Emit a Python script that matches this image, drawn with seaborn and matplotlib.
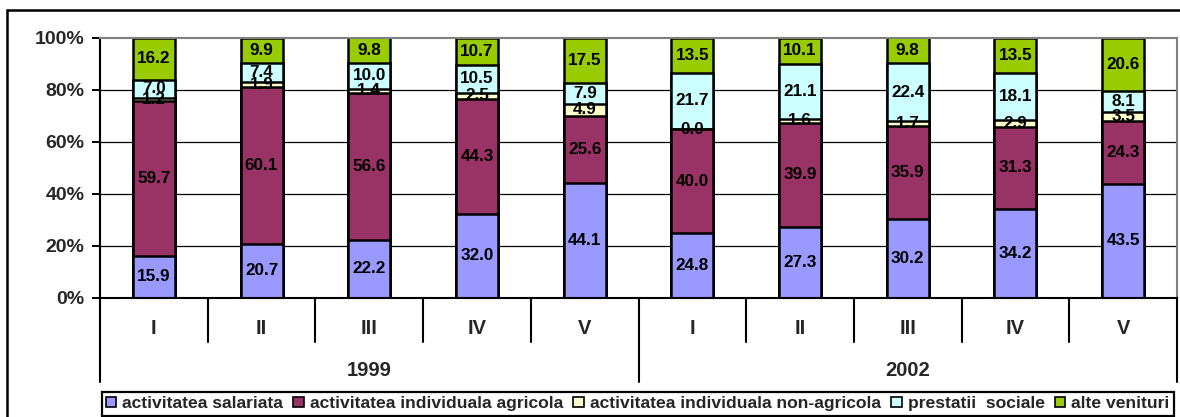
import matplotlib
matplotlib.use("Agg")
import matplotlib.pyplot as plt
from matplotlib.patches import Patch
from matplotlib.lines import Line2D
import seaborn as sns
import pandas as pd
import numpy as np

# ---------------- data ----------------
years = ["1999", "2002"]
quintiles = ["I", "II", "III", "IV", "V"]
series = ["activitatea salariata", "activitatea individuala agricola",
          "activitatea individuala non-agricola", "prestatii  sociale", "alte venituri"]
colors = ["#9999FF", "#993366", "#FFFFCC", "#CCFFFF", "#99CC00"]

salariata_1999 = [15.9, 20.7, 22.2, 32.0, 44.1]
agricola_1999 = [59.7, 60.1, 56.6, 44.3, 25.6]
nonagricola_1999 = [1.2, 1.9, 1.4, 2.5, 4.9]
prestatii_1999 = [7.0, 7.4, 10.0, 10.5, 7.9]
alte_1999 = [16.2, 9.9, 9.8, 10.7, 17.5]

salariata_2002 = [24.8, 27.3, 30.2, 34.2, 43.5]
agricola_2002 = [40.0, 39.9, 35.9, 31.3, 24.3]
nonagricola_2002 = [0.0, 1.6, 1.7, 2.9, 3.5]
prestatii_2002 = [21.7, 21.1, 22.4, 18.1, 8.1]
alte_2002 = [13.5, 10.1, 9.8, 13.5, 20.6]

y_ticks = [0, 20, 40, 60, 80, 100]
y_tick_labels = ["0%", "20%", "40%", "60%", "80%", "100%"]

# ---------------- build table ----------------
vals = np.array([
    salariata_1999 + salariata_2002,
    agricola_1999 + agricola_2002,
    nonagricola_1999 + nonagricola_2002,
    prestatii_1999 + prestatii_2002,
    alte_1999 + alte_2002,
])
cats = [f"{y} {q}" for y in years for q in quintiles]
pct = vals / vals.sum(axis=0) * 100.0
cum = np.cumsum(pct, axis=0)
df = pd.DataFrame({"cat": cats})
for k in range(len(series)):
    df[f"cum{k}"] = cum[k]

# ---------------- style ----------------
sns.set_style("white")
plt.rcParams["font.family"] = ["Liberation Sans", "DejaVu Sans"]
plt.rcParams["font.weight"] = "bold"

W, H = 1180, 417
fig = plt.figure(figsize=(W / 100, H / 100), dpi=100)
ax_bottom_px, ax_top_px = 297.5, 37.5
ax_left_px, ax_right_px = 100, 1177
ax = fig.add_axes([ax_left_px / W, (H - ax_bottom_px) / H,
                   (ax_right_px - ax_left_px) / W, (ax_bottom_px - ax_top_px) / H])
axh = ax_bottom_px - ax_top_px

# grid lines
for g in [20, 40, 60, 80]:
    ax.axhline(g, color="black", lw=0.9, zorder=0)

# stacked bars drawn from the top cumulative down
for k in reversed(range(len(series))):
    sns.barplot(data=df, x="cat", y=f"cum{k}", order=cats, color=colors[k],
                saturation=1, width=0.39, edgecolor="black", linewidth=1.8,
                errorbar=None, ax=ax, zorder=2)

# data labels
for j in range(len(cats)):
    bottom = 0.0
    for k in range(len(series)):
        ax.text(j, bottom + pct[k, j] / 2, f"{vals[k, j]:.1f}", ha="center", va="center",
                fontsize=12.3, fontweight="bold", color="black", zorder=5)
        bottom += pct[k, j]

ax.set_xlim(-0.5, len(cats) - 0.5)
ax.set_ylim(0, 100)
ax.set_yticks(y_ticks)
ax.set_yticklabels(y_tick_labels, fontsize=14, fontweight="bold")
ax.tick_params(axis="y", direction="out", length=6, width=1.4, color="black", pad=5, left=True)
ax.set_xticks([])
ax.set_xlabel("")
ax.set_ylabel("")

for s in ["left", "bottom"]:
    ax.spines[s].set_color("black")
    ax.spines[s].set_linewidth(1.5)
for s in ["top", "right"]:
    ax.spines[s].set_color("#808080")
    ax.spines[s].set_linewidth(1.5)

xt = ax.get_xaxis_transform()
def ay(px):
    return (ax_bottom_px - px) / axh

# category labels and separators
for j in range(len(cats)):
    ax.text(j, ay(328.5), quintiles[j % 5], transform=xt, ha="center", va="center",
            fontsize=14.5, fontweight="bold", clip_on=False)
for b in range(len(cats) + 1):
    xb = b - 0.5
    y_end = ay(382) if b % 5 == 0 else ay(342)
    ax.add_line(Line2D([xb, xb], [0, y_end], transform=xt, color="black", lw=1.5,
                       clip_on=False))
for i, y in enumerate(years):
    ax.text(2 + 5 * i, ay(371), y, transform=xt, ha="center", va="center",
            fontsize=14.5, fontweight="bold", clip_on=False)

# outer chart border (top and left visible)
fig.add_artist(Line2D([7 / W, 1.0], [(H - 10) / H, (H - 10) / H], transform=fig.transFigure,
                      color="black", lw=1.8))
fig.add_artist(Line2D([7 / W, 7 / W], [0, (H - 10) / H], transform=fig.transFigure,
                      color="black", lw=1.8))

# legend
handles = [Patch(facecolor=c, edgecolor="black", linewidth=1.2) for c in colors]
leg = fig.legend(handles, series, loc="lower left", ncol=5, mode="expand",
                 bbox_to_anchor=(101.5 / W, 1.5 / H, (1174 - 101.5) / W, 26 / H),
                 bbox_transform=fig.transFigure, frameon=True, fancybox=False,
                 edgecolor="black", framealpha=1, borderaxespad=0, borderpad=0.25,
                 handlelength=0.6, handleheight=0.5, handletextpad=0.35,
                 columnspacing=0.6, prop={"size": 12.6, "weight": "bold"})
leg.get_frame().set_linewidth(1.6)

fig.savefig("out.png", dpi=100)
